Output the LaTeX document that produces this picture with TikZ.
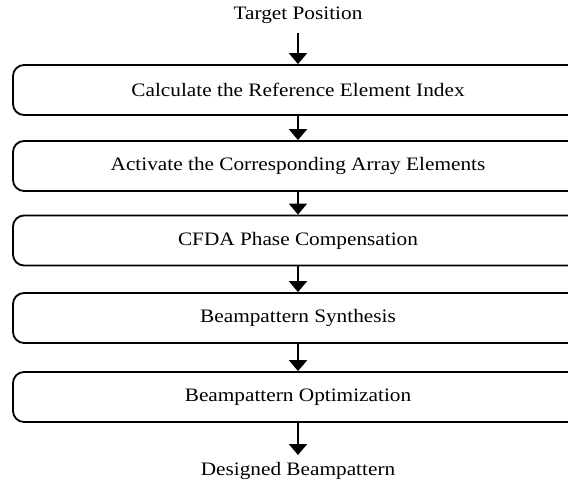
\documentclass[tikz,border=0pt]{standalone}
\usepackage{fontspec}
\setmainfont{Liberation Serif}[FakeStretch=1.12]
\usetikzlibrary{arrows.meta}
\begin{document}
\begin{tikzpicture}[x=1pt,y=-1pt,
  stepbox/.style={draw=black, line width=1.8pt, rounded corners=11pt,
    minimum width=570pt, minimum height=50pt, inner sep=0pt,
    font=\fontsize{19}{21}\selectfont},
  lbl/.style={inner sep=0pt, font=\fontsize{19}{21}\selectfont},
  flow/.style={line width=2pt, -{Triangle[width=18pt,length=11pt]}}]
\useasboundingbox (0,0) rectangle (568,481);
\clip (0,0) rectangle (568,481);
\fill[white] (0,0) rectangle (568,481);
\node[lbl, anchor=base] (tp) at (298,20) {Target Position};
\coordinate (tps) at (298,33);
\node[stepbox] (b1) at (298,90) {Calculate the Reference Element Index};
\node[stepbox] (b2) at (298,166) {Activate the Corresponding Array Elements};
\node[stepbox] (b3) at (298,240.5) {CFDA Phase Compensation};
\node[stepbox] (b4) at (298,318) {Beampattern Synthesis};
\node[stepbox] (b5) at (298,397) {Beampattern Optimization};
\node[lbl, anchor=base] (db) at (298,475) {Designed Beampattern};
\coordinate (dbn) at (298,455);
\draw[flow] (tps) -- (b1.north);
\draw[flow] (b1.south) -- (b2.north);
\draw[flow] (b2.south) -- (b3.north);
\draw[flow] (b3.south) -- (b4.north);
\draw[flow] (b4.south) -- (b5.north);
\draw[flow] (b5.south) -- (dbn);
\end{tikzpicture}
\end{document}
